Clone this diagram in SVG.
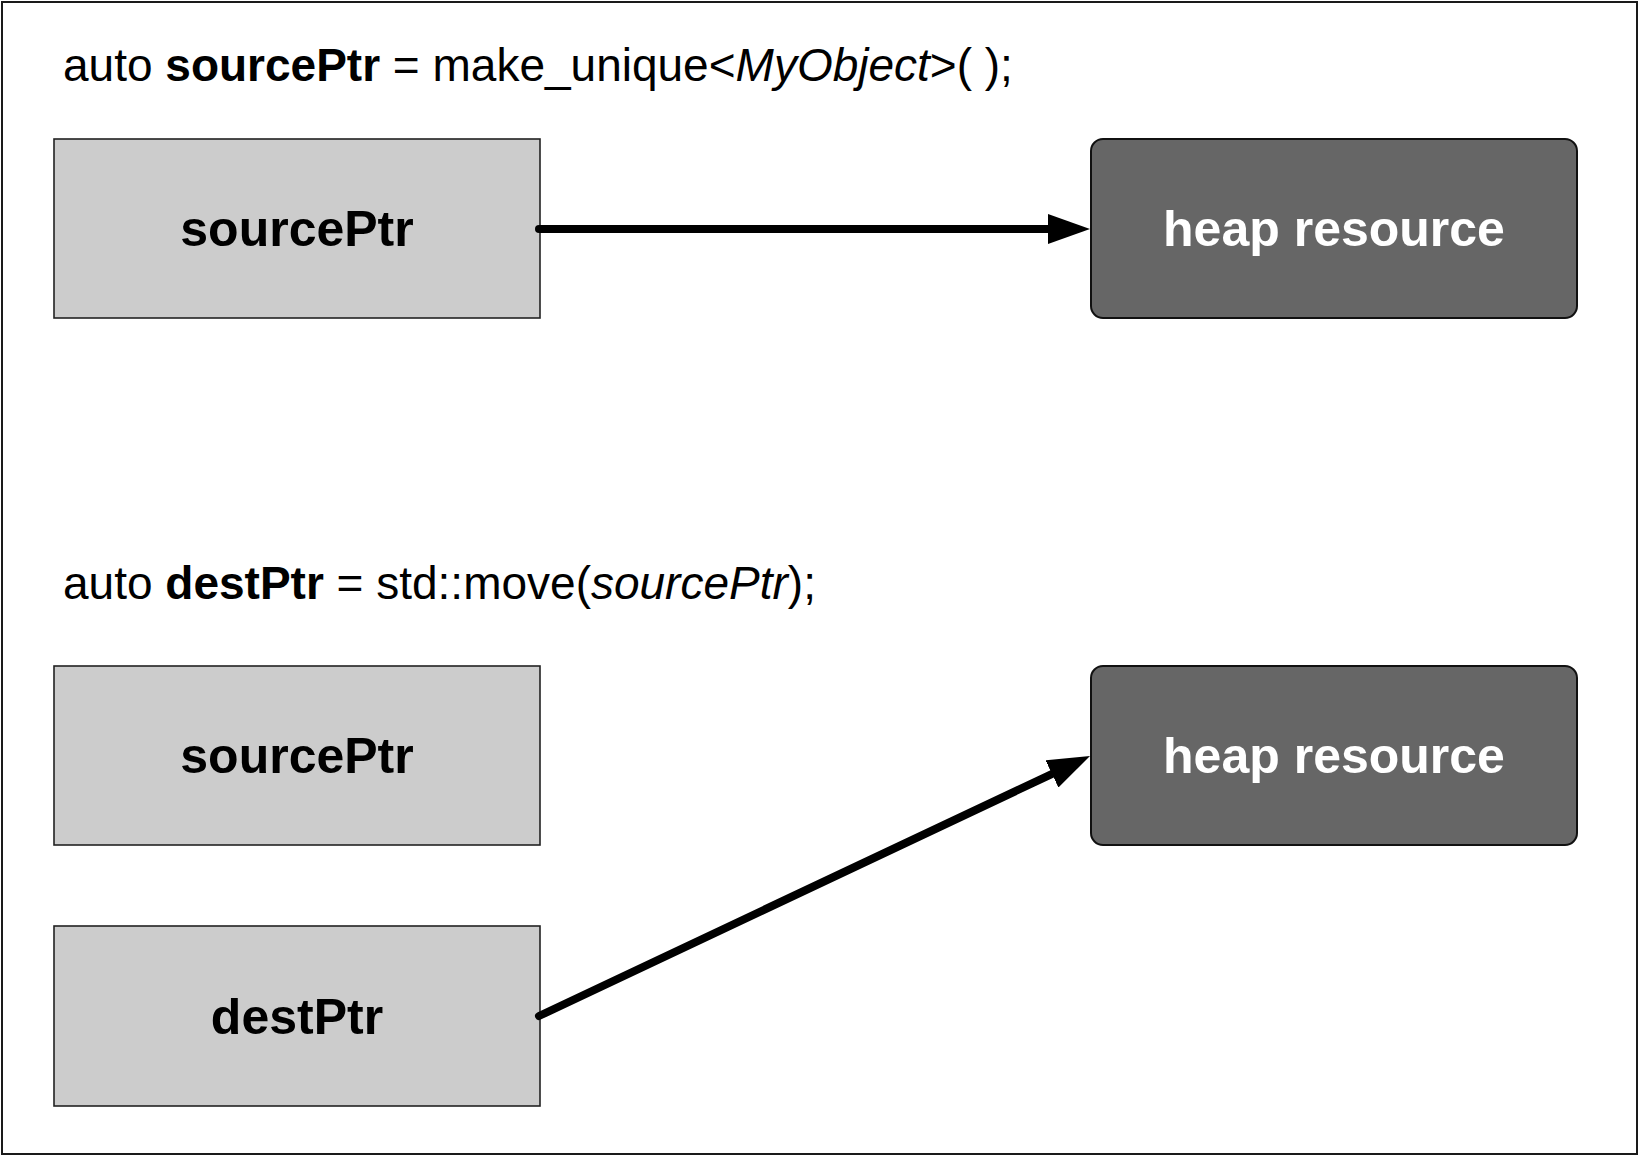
<svg xmlns="http://www.w3.org/2000/svg" width="1639" height="1156" viewBox="0 0 1639 1156">
<style>
.frame{fill:#ffffff;stroke:#1a1a1a;stroke-width:2}
.ptr{fill:#cccccc;stroke:#222222;stroke-width:1.6}
.heap{fill:#666666;stroke:#111111;stroke-width:2}
.code{font-family:"Liberation Sans",Arial,Helvetica,sans-serif;font-size:46px;fill:#000}
.lbl{font-family:"Liberation Sans",Arial,Helvetica,sans-serif;font-size:50px;font-weight:bold;text-anchor:middle;fill:#000}
.lblw{font-family:"Liberation Sans",Arial,Helvetica,sans-serif;font-size:50px;font-weight:bold;text-anchor:middle;fill:#ffffff}
.b{font-weight:bold}
.i{font-style:italic}
.conn{stroke:#000;stroke-width:8;fill:none;stroke-linecap:round;marker-end:url(#ah)}
</style>
<defs>
<marker id="ah" markerUnits="userSpaceOnUse" markerWidth="42" markerHeight="30" refX="2" refY="15" orient="auto" viewBox="0 0 42 30">
<path d="M0,0 L42,15 L0,30 Z" fill="#000"/>
</marker>
</defs>
<rect class="frame" x="2" y="2" width="1635" height="1152"/>
<text class="code" x="63" y="81">auto <tspan class="b">sourcePtr</tspan> = make_unique&lt;<tspan class="i">MyObject</tspan>&gt;( );</text>
<text class="code" x="63" y="599">auto <tspan class="b">destPtr</tspan> = std::move(<tspan class="i">sourcePtr</tspan>);</text>
<g id="sourcePtr1">
<rect class="ptr" x="54" y="139" width="486" height="179"/>
<text class="lbl" x="297" y="246">sourcePtr</text>
</g>
<g id="heap1">
<rect class="heap" x="1091" y="139" width="486" height="179" rx="12" ry="12"/>
<text class="lblw" x="1334" y="246">heap resource</text>
</g>
<g id="sourcePtr2">
<rect class="ptr" x="54" y="666" width="486" height="179"/>
<text class="lbl" x="297" y="773">sourcePtr</text>
</g>
<g id="heap2">
<rect class="heap" x="1091" y="666" width="486" height="179" rx="12" ry="12"/>
<text class="lblw" x="1334" y="773">heap resource</text>
</g>
<g id="destPtr">
<rect class="ptr" x="54" y="926" width="486" height="180"/>
<text class="lbl" x="297" y="1034">destPtr</text>
</g>
<g id="connectors">
<line class="conn" x1="539" y1="229" x2="1050" y2="229"/>
<line class="conn" x1="539" y1="1016" x2="1053.8" y2="773.1"/>
</g>
</svg>
